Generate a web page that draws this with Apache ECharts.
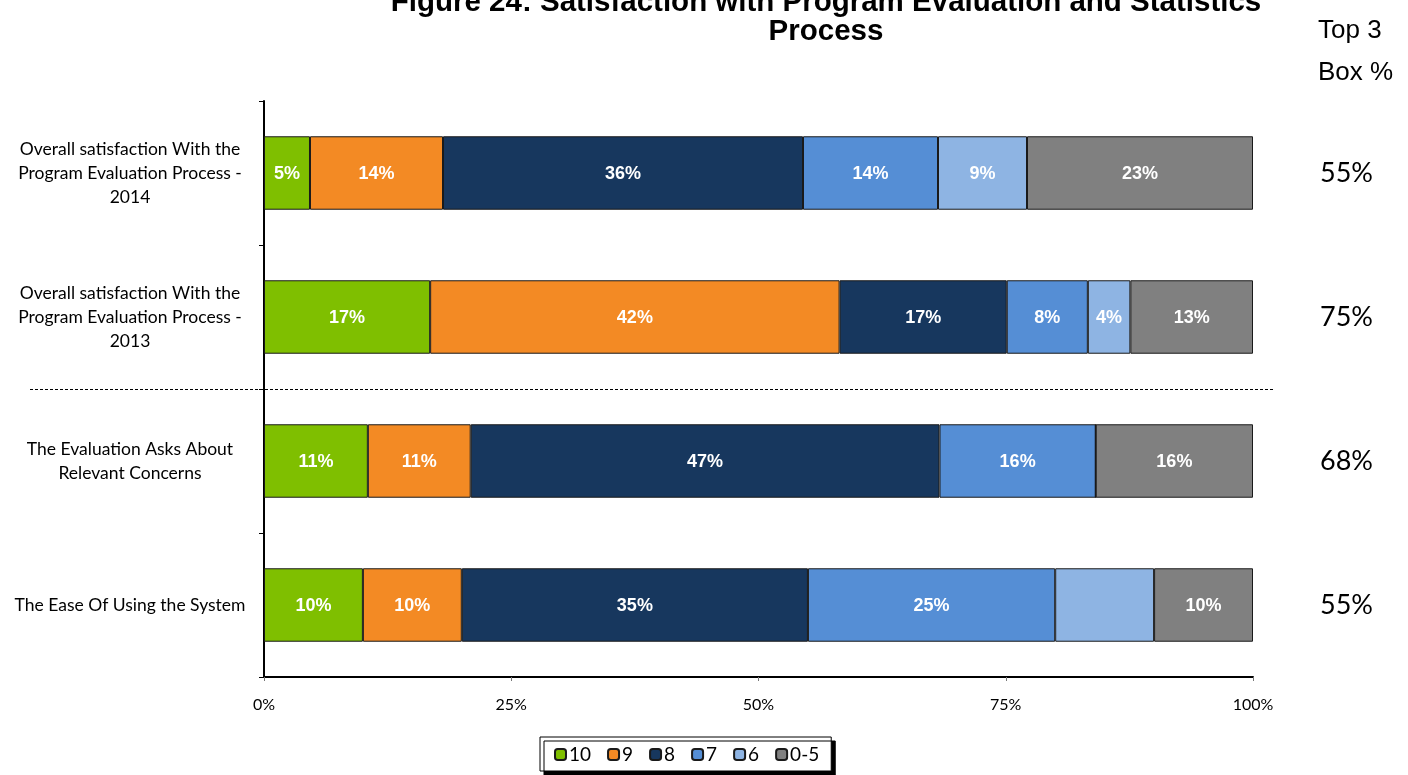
<!DOCTYPE html>
<html>
<head>
<meta charset="utf-8">
<script src="https://cdn.jsdelivr.net/npm/echarts@6/dist/echarts.min.js"></script>
<style>html,body{margin:0;padding:0;background:#fff;}#c{width:1408px;height:775px;}</style>
</head>
<body>
<div id="c"></div>
<script>
// ---- data ----
const categories = [
  'Overall satisfaction With the\nProgram Evaluation Process -\n2014',
  'Overall satisfaction With the\nProgram Evaluation Process -\n2013',
  'The Evaluation Asks About\nRelevant Concerns',
  'The Ease Of Using the System'
];
const seriesNames = ['10', '9', '8', '7', '6', '0-5'];
const score10  = [4.65, 16.8, 10.5, 10.0];
const score9   = [13.45, 41.4, 10.4, 10.0];
const score8   = [36.4, 16.9, 47.4, 35.0];
const score7   = [13.65, 8.2, 15.8, 25.0];
const score6   = [9.0, 4.3, 0, 10.0];
const score0_5 = [22.85, 12.4, 15.9, 10.0];
const label10  = ['5%', '17%', '11%', '10%'];
const label9   = ['14%', '42%', '11%', '10%'];
const label8   = ['36%', '17%', '47%', '35%'];
const label7   = ['14%', '8%', '16%', '25%'];
const label6   = ['9%', '4%', '', ''];
const label0_5 = ['23%', '13%', '16%', '10%'];
const top3Box  = ['55%', '75%', '68%', '55%'];
const xTicks   = [0, 25, 50, 75, 100];

const values = [score10, score9, score8, score7, score6, score0_5];
const labels = [label10, label9, label8, label7, label6, label0_5];
const colors = ['#7FBF00', '#F38A24', '#17375E', '#558ED5', '#8EB4E3', '#808080'];

const chart = echarts.init(document.getElementById('c'));

const series = seriesNames.map((name, i) => ({
  name: name,
  type: 'bar',
  stack: 'total',
  barWidth: '51%',
  data: values[i],
  itemStyle: { color: colors[i], borderColor: '#1a1a1a', borderWidth: 1 },
  label: {
    show: true,
    position: 'inside',
    offset: [0, 1],
    color: '#ffffff',
    fontFamily: 'Liberation Sans, Arial, sans-serif',
    fontWeight: 'bold',
    fontSize: 18,
    formatter: p => labels[i][p.dataIndex]
  },
  emphasis: { disabled: true }
}));

chart.setOption({
  animation: false,
  backgroundColor: '#ffffff',
  title: [{
    text: 'Figure 24: Satisfaction with Program Evaluation and Statistics\nProcess',
    left: 821,
    textAlign: 'center',
    top: -17,
    textStyle: {
      fontFamily: 'Liberation Sans, Arial, sans-serif',
      fontWeight: 'bold',
      fontSize: 29.5,
      lineHeight: 29,
      color: '#000'
    }
  }, {
    text: 'Top 3\nBox %',
    left: 1313,
    top: 5,
    textStyle: {
      fontFamily: 'Liberation Sans Narrow, Liberation Sans, Arial, sans-serif',
      fontWeight: 'normal',
      fontSize: 26,
      lineHeight: 42,
      color: '#000'
    }
  }],
  legend: {
    data: seriesNames,
    left: 540,
    top: 737,
    padding: [8, 12, 7, 14],
    itemGap: 16,
    itemWidth: 11,
    itemHeight: 11,
    backgroundColor: '#ffffff',
    borderColor: '#000',
    borderWidth: 1,
    shadowColor: '#000',
    shadowOffsetX: 4,
    shadowOffsetY: 4,
    shadowBlur: 0,
    textStyle: { fontFamily: 'Lato, Calibri, sans-serif', fontSize: 19, color: '#000', padding: [0, 0, 0, -2] }
  },
  grid: { left: 264, right: 155, top: 101, bottom: 98, containLabel: false },
  xAxis: {
    type: 'value',
    min: 0,
    max: 100,
    interval: 25,
    splitLine: { show: false },
    axisLine: { show: true, lineStyle: { color: '#000', width: 2 } },
    axisTick: { show: true, length: 4, lineStyle: { color: '#777' } },
    axisLabel: {
      margin: 20,
      fontFamily: 'Lato, Calibri, sans-serif',
      fontSize: 16,
      color: '#000',
      customValues: xTicks,
      formatter: v => v + '%'
    }
  },
  yAxis: [{
    type: 'category',
    inverse: true,
    data: categories,
    axisLine: { show: true, lineStyle: { color: '#000', width: 2 } },
    axisTick: { show: true, length: 5, lineStyle: { color: '#000' } },
    axisLabel: {
      margin: 134,
      align: 'center',
      fontFamily: 'Lato, Calibri, sans-serif',
      fontSize: 17.5,
      lineHeight: 24,
      color: '#000'
    }
  }, {
    type: 'category',
    inverse: true,
    position: 'right',
    data: top3Box,
    axisLine: { show: false },
    axisTick: { show: false },
    axisLabel: {
      margin: 67,
      align: 'left',
      fontFamily: 'Lato, Calibri, sans-serif',
      fontSize: 27,
      color: '#000'
    }
  }],
  series: series
});

// dashed separator between the 2013 row and the attribute rows
const y1 = chart.convertToPixel({ yAxisIndex: 0 }, categories[1]);
const y2 = chart.convertToPixel({ yAxisIndex: 0 }, categories[2]);
const ySep = Math.round((y1 + y2) / 2) + 0.5;
chart.setOption({
  graphic: [{
    type: 'line',
    shape: { x1: 30, y1: ySep, x2: 1275, y2: ySep },
    style: { stroke: '#000', lineWidth: 1, lineDash: [3, 2] },
    z: 10
  }]
});
</script>
</body>
</html>
